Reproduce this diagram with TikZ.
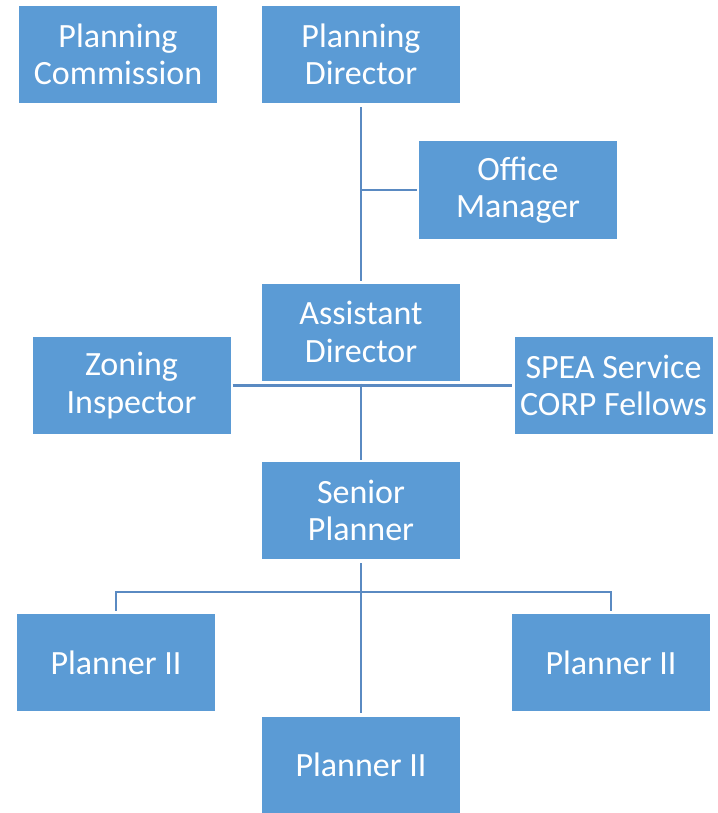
\documentclass[tikz,border=0pt]{standalone}
\usepackage{fontspec}
\setmainfont{Carlito}
\definecolor{boxblue}{HTML}{5B9BD5}
\definecolor{lineblue}{HTML}{5A8AC2}
\begin{document}
\begin{tikzpicture}[x=1pt,y=-1pt,
  unit/.style={rectangle, fill=boxblue, text=white, minimum width=198pt, minimum height=97pt,
    inner sep=0pt, align=center, font=\fontsize{34}{37.5}\selectfont},
  conn/.style={draw=lineblue, line width=2.8pt}]
\useasboundingbox (0,0) rectangle (717,813);
\node[unit] (pc) at (118,54.5) {Planning\\Commission};
\node[unit] (pd) at (361,54.5) {Planning\\Director};
\node[unit] (om) at (518,190) {Office\\Manager};
\node[unit] (ad) at (361,332) {Assistant\\Director};
\node[unit] (zi) at (131.5,385.5) {Zoning\\Inspector};
\node[unit] (spea) at (613.5,385.5) {SPEA Service\\CORP Fellows};
\node[unit] (sp) at (361,510.5) {Senior\\Planner};
\node[unit] (p1) at (116,662.5) {Planner II};
\node[unit] (p2) at (611,662.5) {Planner II};
\node[unit] (p3) at (361,765) {Planner II};
\coordinate (j1) at (361,190);
\coordinate (j2) at (361,592);
\draw[conn, shorten <=4pt, shorten >=2pt] (pd.south) -- (ad.north);
\draw[conn, shorten >=2pt] (j1) -- (om.west);
\draw[conn, shorten <=2pt, shorten >=2pt] (zi.east) -- (spea.west);
\draw[conn, shorten <=3pt, shorten >=2pt] (ad.south) -- (sp.north);
\draw[conn, shorten <=4pt, shorten >=3pt] (sp.south) -- (p3.north);
\draw[conn, shorten <=3pt, shorten >=3pt] (p1.north) |- (j2) -| (p2.north);
\end{tikzpicture}
\end{document}
